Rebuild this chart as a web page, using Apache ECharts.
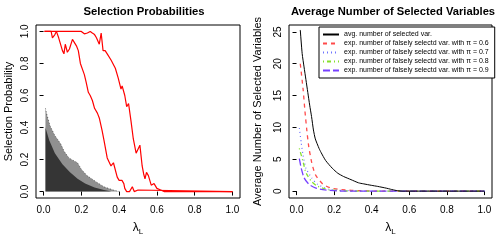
<!DOCTYPE html>
<html><head><meta charset="utf-8">
<script src="https://cdn.jsdelivr.net/npm/echarts@6/dist/echarts.min.js"></script>
<style>html,body{margin:0;padding:0;background:#fff}#c{width:496px;height:241px}</style>
</head><body><div id="c"></div>
<script>
// ---- Left panel: selection probabilities ----
const lowerRedLambda = [0.005,0.04,0.047,0.06,0.068,0.08,0.09,0.10,0.108,0.115,0.126,0.137,0.153,0.163,0.174,0.179,0.184,0.195,0.205,0.216,0.226,0.237,0.247,0.258,0.263,0.27,0.285,0.295,0.31,0.32,0.328,0.337,0.345,0.357,0.37,0.38,0.39,0.40,0.415,0.425,0.43,0.44,0.455,0.47,0.48,0.49,0.50,0.51,1.0];
const lowerRedProb   = [1.0,1.0,0.96,0.98,1.0,0.96,0.97,0.88,0.86,0.92,0.87,0.89,0.95,0.94,0.91,0.92,0.88,0.80,0.79,0.73,0.68,0.62,0.60,0.57,0.55,0.52,0.49,0.46,0.38,0.32,0.31,0.21,0.22,0.16,0.18,0.17,0.09,0.07,0.07,0.05,0.02,0.0,0.0,0.03,0.0,0.0,0.01,0.0,0.0];
const upperRedLambda = [0.005,0.18,0.19,0.2,0.216,0.232,0.247,0.258,0.27,0.28,0.295,0.305,0.315,0.326,0.337,0.342,0.358,0.368,0.38,0.395,0.405,0.41,0.416,0.43,0.44,0.45,0.463,0.475,0.49,0.51,0.522,0.53,0.537,0.545,0.555,0.57,0.585,0.60,0.62,0.64,0.68,0.69,0.70,1.0];
const upperRedProb   = [1.0,1.0,0.99,1.0,0.985,0.99,1.0,0.99,0.98,0.96,0.92,0.99,0.88,0.88,0.86,0.87,0.82,0.82,0.77,0.71,0.71,0.64,0.66,0.60,0.53,0.55,0.44,0.33,0.24,0.29,0.16,0.11,0.08,0.12,0.10,0.04,0.05,0.02,0.01,0.0,0.0,0.01,0.0,0.0];
const cloudOuterLambda = [0.01,0.02,0.035,0.06,0.09,0.11,0.135,0.165,0.18,0.2,0.23,0.28,0.32,0.37,0.40];
const cloudOuterProb   = [0.52,0.47,0.41,0.35,0.30,0.25,0.21,0.19,0.18,0.14,0.10,0.06,0.03,0.01,0.0];
const cloudInnerLambda = [0.01,0.03,0.06,0.10,0.14,0.18,0.22,0.27,0.32,0.36];
const cloudInnerProb   = [0.40,0.32,0.24,0.17,0.12,0.08,0.05,0.025,0.01,0.0];

// ---- Right panel: average number of selected variables ----
const avgLambda = [0.02,0.03,0.04,0.05,0.06,0.07,0.08,0.09,0.10,0.12,0.13,0.155,0.19,0.22,0.25,0.29,0.33,0.355,0.40,0.43,0.48,0.50,0.53,0.56,1.0];
const avgCount  = [25.3,21.6,19.5,17.5,15.5,13.5,11.7,9.6,8.2,6.7,6.1,4.8,3.6,2.8,2.3,1.8,1.3,1.15,0.9,0.75,0.45,0.3,0.1,0.0,0.0];
const pi06Lambda = [0.02,0.035,0.045,0.055,0.065,0.08,0.10,0.14,0.18,0.22,0.30,0.45,1.0];
const pi06Count  = [20,16,12.5,9.5,7,4.6,2.6,1.1,0.5,0.3,0.1,0,0];
const pi07Lambda = [0.015,0.025,0.035,0.05,0.08,0.11,0.17,0.25,0.40,1.0];
const pi07Count  = [9.9,7.6,5.6,3.6,2.1,1.1,0.3,0.1,0,0];
const pi08Lambda = [0.015,0.035,0.05,0.08,0.11,0.17,0.30,1.0];
const pi08Count  = [6.7,4.6,2.9,1.5,0.8,0.2,0,0];
const pi09Lambda = [0.015,0.025,0.04,0.065,0.10,0.15,0.25,1.0];
const pi09Count  = [5.1,3.6,2.1,1.1,0.5,0.2,0,0];

const xTicks = [0,0.2,0.4,0.6,0.8,1.0];
const yTicksLeft = [0,0.2,0.4,0.6,0.8,1.0];
const yTicksRight = [0,5,10,15,20,25];

const titles = ['Selection Probabilities','Average Number of Selected Variables'];
const yNames = ['Selection Probability','Average Number of Selected Variables'];
const legendNames = ['avg. number of selected var.',
  'exp. number of falsely selectd var. with \u03c0 = 0.6',
  'exp. number of falsely selectd var. with \u03c0 = 0.7',
  'exp. number of falsely selectd var. with \u03c0 = 0.8',
  'exp. number of falsely selectd var. with \u03c0 = 0.9'];

const zip = (a,b) => a.map((v,i)=>[v,b[i]]);
const FONT = 'Liberation Sans, Arial, Helvetica, sans-serif';

function xAxis(gi){
  return {gridIndex:gi,type:'value',min:-0.04,max:1.04,
    axisLine:{show:false},splitLine:{show:false},
    axisTick:{show:true,inside:false,length:4,customValues:xTicks,lineStyle:{color:'#000'}},
    axisLabel:{customValues:xTicks,margin:7,color:'#000',fontSize:10,fontFamily:FONT,formatter:v=>v.toFixed(1)},
    name:'{a|\u03bb}{b|L}',nameLocation:'middle',nameGap:22,
    nameTextStyle:{rich:{a:{fontSize:12,fontFamily:FONT,color:'#000'},b:{fontSize:8,fontFamily:FONT,color:'#000',padding:[8,0,0,0]}}}
  };
}
function yAxis(gi,min,max,ticks,fmt,name,gap){
  return {gridIndex:gi,type:'value',min:min,max:max,
    axisLine:{show:false},splitLine:{show:false},
    axisTick:{show:true,inside:false,length:4,customValues:ticks,lineStyle:{color:'#000'}},
    axisLabel:{customValues:ticks,rotate:90,margin:6,color:'#000',fontSize:10,fontFamily:FONT,formatter:fmt},
    name:name,nameLocation:'middle',nameRotate:90,nameGap:gap,
    nameTextStyle:{fontSize:11,fontFamily:FONT,color:'#000'}
  };
}

const chart = echarts.init(document.getElementById('c'),null,{renderer:'canvas'});
chart.setOption({
  animation:false,
  backgroundColor:'#fff',
  title:[
    {text:titles[0],left:139,top:1,textAlign:'center',textStyle:{fontSize:11.3,fontWeight:'bold',fontFamily:FONT,color:'#000'}},
    {text:titles[1],left:388,top:1,textAlign:'center',textStyle:{fontSize:11.2,fontWeight:'bold',fontFamily:FONT,color:'#000'}}
  ],
  grid:[
    {left:36,top:25,width:204,height:178,show:true,borderColor:'#000',borderWidth:1,backgroundColor:'transparent'},
    {left:289,top:25,width:203,height:178,show:true,borderColor:'#000',borderWidth:1,backgroundColor:'transparent'}
  ],
  xAxis:[xAxis(0),xAxis(1)],
  yAxis:[
    yAxis(0,-0.04,1.04,yTicksLeft,v=>v.toFixed(1),yNames[0],22),
    yAxis(1,-1.08,26.08,yTicksRight,v=>String(v),yNames[1],26)
  ],
  legend:{
    data:legendNames,orient:'vertical',left:319,top:27,width:173,
    itemWidth:16,itemHeight:6,itemGap:2,
    padding:[4,6,4,3],
    borderColor:'#000',borderWidth:1,backgroundColor:'#fff',
    itemStyle:{opacity:0},
    textStyle:{fontSize:7,fontFamily:FONT,color:'#000'},
    selectedMode:false
  },
  series:[
    {type:'line',xAxisIndex:0,yAxisIndex:0,data:zip(cloudOuterLambda,cloudOuterProb),symbol:'none',
      lineStyle:{width:0.8,color:'rgba(0,0,0,0.6)',type:[1,2]},areaStyle:{color:'rgba(0,0,0,0.62)',origin:'auto'},z:1},
    {type:'line',xAxisIndex:0,yAxisIndex:0,data:zip(cloudInnerLambda,cloudInnerProb),symbol:'none',
      lineStyle:{width:0},areaStyle:{color:'rgba(0,0,0,0.9)',origin:'auto'},z:2},
    {type:'line',xAxisIndex:0,yAxisIndex:0,data:zip(lowerRedLambda,lowerRedProb),symbol:'none',
      lineStyle:{width:1.2,color:'#ff0000'},z:3},
    {type:'line',xAxisIndex:0,yAxisIndex:0,data:zip(upperRedLambda,upperRedProb),symbol:'none',
      lineStyle:{width:1.2,color:'#ff0000'},z:3},
    {name:legendNames[0],type:'line',xAxisIndex:1,yAxisIndex:1,data:zip(avgLambda,avgCount),symbol:'none',smooth:0.2,
      color:'#000',lineStyle:{width:1,color:'#000'},z:5},
    {name:legendNames[1],type:'line',xAxisIndex:1,yAxisIndex:1,data:zip(pi06Lambda,pi06Count),symbol:'none',smooth:0.2,
      color:'#ff4a4a',lineStyle:{width:1.3,color:'#ff4a4a',type:[4,4]},z:4},
    {name:legendNames[2],type:'line',xAxisIndex:1,yAxisIndex:1,data:zip(pi07Lambda,pi07Count),symbol:'none',smooth:0.2,
      color:'#6e74ff',lineStyle:{width:1.2,color:'#6e74ff',type:[1,3]},z:4},
    {name:legendNames[3],type:'line',xAxisIndex:1,yAxisIndex:1,data:zip(pi08Lambda,pi08Count),symbol:'none',smooth:0.2,
      color:'#86e02c',lineStyle:{width:1.3,color:'#86e02c',type:[1,3,4,3]},z:4},
    {name:legendNames[4],type:'line',xAxisIndex:1,yAxisIndex:1,data:zip(pi09Lambda,pi09Count),symbol:'none',smooth:0.2,
      color:'#7640ff',lineStyle:{width:1.3,color:'#7640ff',type:[7,3]},z:4}
  ]
});
</script>
</body></html>
